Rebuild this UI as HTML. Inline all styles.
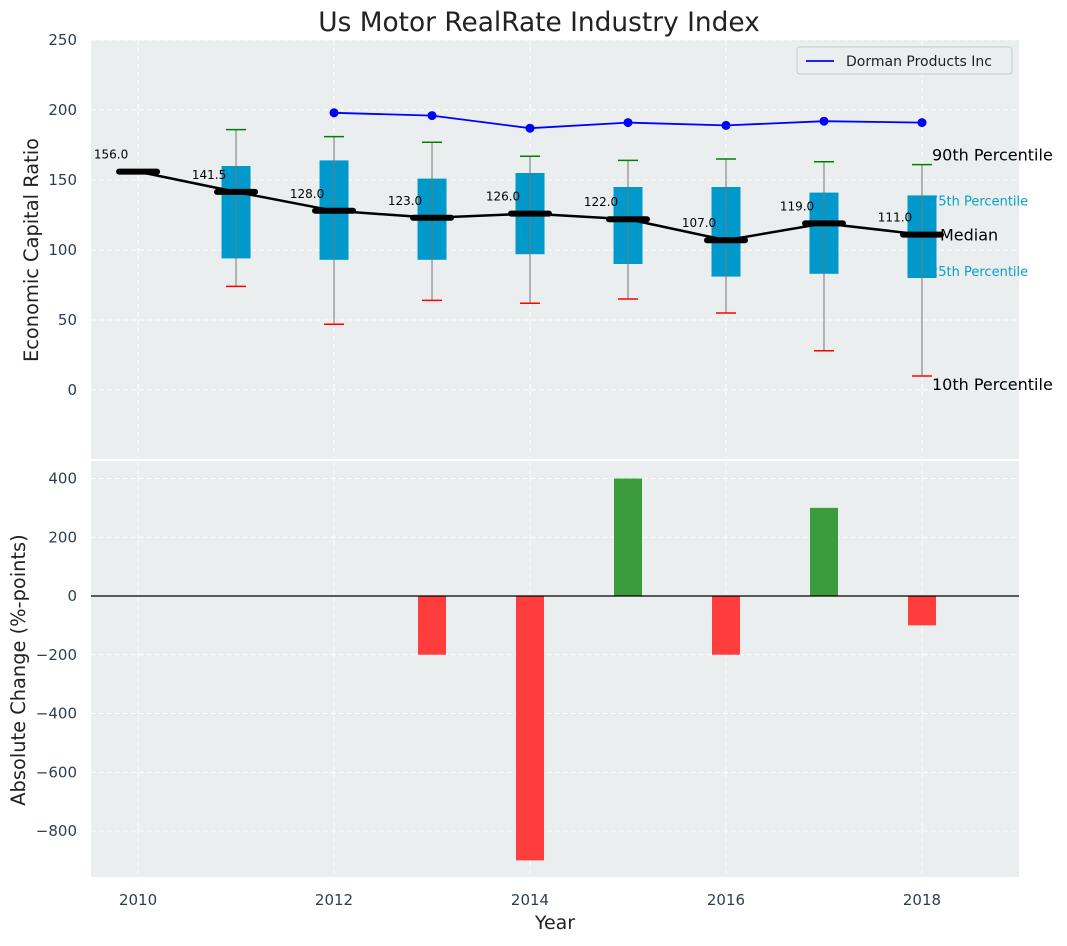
<!DOCTYPE html>
<html><head><meta charset="utf-8"><style>
body{margin:0;background:#fff;font-family:"DejaVu Sans","Liberation Sans",sans-serif;}
svg text{font-family:"DejaVu Sans","Liberation Sans",sans-serif;}
</style></head><body>
<svg id="c" width="1067" height="942" xmlns="http://www.w3.org/2000/svg"></svg>
<script>
const years=[2010,2011,2012,2013,2014,2015,2016,2017,2018];
const medians=[156,141.5,128,123,126,122,107,119,111];
const boxYears=[2011,2012,2013,2014,2015,2016,2017,2018];
const p90=[186,181,177,167,164,165,163,161];
const p75=[160,164,151,155,145,145,141,139];
const p25=[94,93,93,97,90,81,83,80];
const p10=[74,47,64,62,65,55,28,10];
const dormanYears=[2012,2013,2014,2015,2016,2017,2018];
const dorman=[198,196,187,191,189,192,191];
const changeYears=[2013,2014,2015,2016,2017,2018];
const changes=[-200,-900,400,-200,300,-100];
const topTicks=[0,50,100,150,200,250];
const botTicks=[-800,-600,-400,-200,0,200,400];
const xTicks=[2010,2012,2014,2016,2018];

const NS="http://www.w3.org/2000/svg";
const svg=document.getElementById('c');
function el(tag,attrs,parent){const e=document.createElementNS(NS,tag);for(const k in attrs)e.setAttribute(k,attrs[k]);(parent||svg).appendChild(e);return e;}
const L=91,R=1019;
const X=v=>L+(v-2009.52)*(R-L)/(2018.99-2009.52);
const Yt=v=>390-v*1.4;
const Yb=v=>596-v*0.29375;

let t=el('text',{x:539,y:31,'text-anchor':'middle','font-size':26.4,fill:'#222'});t.textContent='Us Motor RealRate Industry Index';


let bg=el('rect',{x:L,y:40,width:R-L,height:419,fill:'#eaeeee'});

let bg2=el('rect',{x:L,y:461,width:R-L,height:416,fill:'#eaeeee'});


topTicks.forEach(v=>{el('line',{x1:L,x2:R,y1:Yt(v),y2:Yt(v),stroke:'#fff','stroke-dasharray':'5,3','stroke-width':1});
 const tx=el('text',{x:77,y:Yt(v)+5,'text-anchor':'end','font-size':15,fill:'#2d3e50'});tx.textContent=v;
 });
botTicks.forEach(v=>{el('line',{x1:L,x2:R,y1:Yb(v),y2:Yb(v),stroke:'#fff','stroke-dasharray':'5,3','stroke-width':1});
 const tx=el('text',{x:77,y:Yb(v)+5,'text-anchor':'end','font-size':15,fill:'#2d3e50'});tx.textContent=(v<0?'\u2212'+(-v):v);
 });
xTicks.forEach(v=>{el('line',{x1:X(v),x2:X(v),y1:40,y2:459,stroke:'#fff','stroke-dasharray':'5,3'});
 el('line',{x1:X(v),x2:X(v),y1:461,y2:877,stroke:'#fff','stroke-dasharray':'5,3'});
 const tx=el('text',{x:X(v),y:905,'text-anchor':'middle','font-size':15,fill:'#2d3e50'});tx.textContent=v;
 });

const lx=X(2018)+10;
[['90th Percentile',Yt(p90[7])-4,16,'#000',lx],['75th Percentile',Yt(p75[7])+10,13,'#0aa0cc',lx-2],['Median',Yt(medians[8])+6,16,'#000',lx+8],['25th Percentile',Yt(p25[7])-2,13,'#0aa0cc',lx-2],['10th Percentile',Yt(p10[7])+14,16,'#000',lx]].forEach(a=>{
 const tx=el('text',{x:a[4],y:a[1],'font-size':a[2],fill:a[3]});tx.textContent=a[0];
 });

boxYears.forEach((y,i)=>{const cx=X(y);
 const b=el('rect',{x:cx-14.5,y:Yt(p75[i]),width:29,height:Yt(p25[i])-Yt(p75[i]),fill:'#0099cc'});
 
 el('line',{x1:cx,x2:cx,y1:Yt(p90[i]),y2:Yt(p10[i]),stroke:'#777','stroke-width':1});
 const g=el('line',{x1:cx-10,x2:cx+10,y1:Yt(p90[i]),y2:Yt(p90[i]),stroke:'green','stroke-width':1.5});
 
 const r=el('line',{x1:cx-10,x2:cx+10,y1:Yt(p10[i]),y2:Yt(p10[i]),stroke:'red','stroke-width':1.5});
 
});

let mp=el('polyline',{points:years.map((y,i)=>X(y)+','+Yt(medians[i])).join(' '),fill:'none',stroke:'#000','stroke-width':2.5});

years.forEach((y,i)=>{const cx=X(y),cy=Yt(medians[i]);
 const m=el('line',{x1:cx-19,x2:cx+19,y1:cy,y2:cy,stroke:'#000','stroke-width':6,'stroke-linecap':'round'});
 
 const tx=el('text',{x:cx-27,y:cy-13,'text-anchor':'middle','font-size':12,fill:'#000'});tx.textContent=medians[i].toFixed(1);
 });

let dp=el('polyline',{points:dormanYears.map((y,i)=>X(y)+','+Yt(dorman[i])).join(' '),fill:'none',stroke:'blue','stroke-width':1.8});

dormanYears.forEach((y,i)=>{const c=el('circle',{cx:X(y),cy:Yt(dorman[i]),r:4.5,fill:'blue'});
 });

let lg=el('rect',{x:797,y:47,width:215,height:27,rx:3,fill:'#eaeeee',stroke:'#ccc'});

el('line',{x1:806,x2:834,y1:61,y2:61,stroke:'blue','stroke-width':1.8});
let lt=el('text',{x:846,y:66,'font-size':14,fill:'#222'});lt.textContent='Dorman Products Inc';


changeYears.forEach((y,i)=>{const v=changes[i];const y0=Yb(0),y1=Yb(v);
 const b=el('rect',{x:X(y)-14,y:Math.min(y0,y1),width:28,height:Math.abs(y1-y0),fill:v>=0?'#3a9c3a':'#ff3d3d'});
 });
el('line',{x1:L,x2:R,y1:Yb(0),y2:Yb(0),stroke:'#000','stroke-width':1.2});

let yt1=el('text',{x:38,y:250,'text-anchor':'middle','font-size':19.4,fill:'#222',transform:'rotate(-90 38 250)'});yt1.textContent='Economic Capital Ratio';

let yt2=el('text',{x:25,y:670,'text-anchor':'middle','font-size':19.4,fill:'#222',transform:'rotate(-90 25 670)'});yt2.textContent='Absolute Change (%-points)';

let xt=el('text',{x:555,y:929,'text-anchor':'middle','font-size':19,fill:'#222'});xt.textContent='Year';

</script>
</body></html>
